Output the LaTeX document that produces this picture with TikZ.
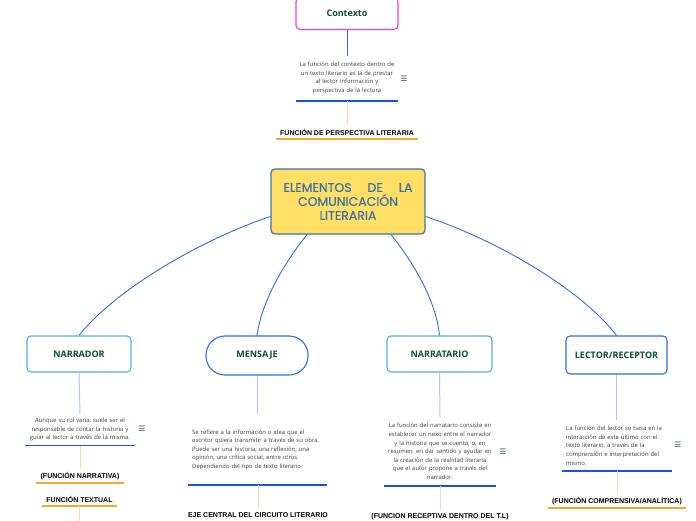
\documentclass[tikz,border=0pt]{standalone}
\usepackage{fontspec}
\setmainfont{Open Sans}
\newfontfamily\lblfont{Liberation Sans}
\newfontfamily\centfont[FakeBold=0.3]{Poppins}
\newfontfamily\symfont{DejaVu Sans}
\definecolor{magentaC}{HTML}{F53BDB}
\definecolor{dkgreen}{HTML}{0F4D3A}
\definecolor{centfill}{HTML}{FFDF66}
\definecolor{centborder}{HTML}{3B78A6}
\definecolor{centtext}{HTML}{3C6FA3}
\definecolor{curveblue}{HTML}{2E6AF2}
\definecolor{boxlight}{HTML}{5BAAE8}
\definecolor{boxblue}{HTML}{2F6BEF}
\definecolor{stemblue}{HTML}{A8C6FF}
\definecolor{ulblue}{HTML}{1F4FE0}
\definecolor{orangec}{HTML}{F7A52B}
\definecolor{lightorange}{HTML}{FFD8A8}
\definecolor{notegray}{HTML}{3F3F3F}
\definecolor{iconc}{HTML}{2E4A48}
\pgfdeclarelayer{background}
\pgfsetlayers{background,main}
\tikzset{
  topic/.style={draw, rounded corners=4pt, line width=1.1pt, fill=white, inner sep=0pt,
    font=\bfseries\fontsize{9}{10}\selectfont, text=dkgreen},
  note/.style={text=notegray, font=\fontsize{5.9}{8.6}\selectfont, inner xsep=0pt, inner ysep=0pt},
  tag/.style={font=\lblfont\bfseries\fontsize{7}{8}\selectfont, inner sep=0pt, minimum height=14pt, text=black},
  icon/.style={font=\symfont\fontsize{7.5}{8}\selectfont, text=iconc, inner sep=0pt},
  curve/.style={draw=curveblue, line width=0.9pt},
  stem/.style={draw=stemblue, line width=1pt},
  ostem/.style={draw=lightorange, line width=1pt},
  buline/.style={draw=ulblue, line width=1.6pt},
  oline/.style={draw=orangec, line width=1.5pt}
}
\begin{document}
\begin{tikzpicture}[x=1pt,y=-1pt]
\useasboundingbox (0,0) rectangle (696,520);

% ---------- nodes ----------
\node[topic, draw=magentaC, minimum width=102pt, minimum height=32pt, anchor=south] (ctx) at (347,30) {Contexto};
\node[note, align=center, text width=120pt, minimum height=46pt] (n0) at (347,78)
  {La función del contexto dentro de\\un texto literario es la de prestar\\al lector información y\\perspectiva de la lectura};
\coordinate (m0) at (347,101);
\coordinate (s0) at (347.5,56);
\node[icon] (i0) at (404,79) {☰};
\node[tag] (tc) at (347,132) {FUNCIÓN DE PERSPECTIVA LITERARIA};
\coordinate (u0) at (347,139);

\node[draw=centborder, fill=centfill, rounded corners=4pt, line width=1.2pt, minimum width=154pt,
  minimum height=65pt, text width=136pt, align=center, inner sep=0pt,
  font=\centfont\fontsize{12.5}{14}\selectfont, text=centtext] (root) at (348,201.5)
  {\makebox[129pt]{ELEMENTOS\hfill DE\hfill LA}\\COMUNICACIÓN\\LITERARIA};

\node[topic, draw=boxlight, minimum width=104pt, minimum height=36pt] (narr) at (79,354) {NARRADOR};
\node[topic, draw=boxblue, rounded corners=19pt, minimum width=102pt, minimum height=39pt] (mens) at (257,355.5) {MENSAJE};
\node[topic, draw=boxlight, minimum width=105pt, minimum height=36pt] (narrt) at (439.5,354) {NARRATARIO};
\node[topic, draw=boxblue, minimum width=101pt, minimum height=38pt] (lect) at (616.5,355) {LECTOR/RECEPTOR};

\node[note, align=center, text width=130pt, minimum height=31pt] (n1) at (80,429.5)
  {Aunque su rol varía, suele ser el\\responsable de contar la historia y\\guiar al lector a través de la misma.};
\coordinate (m1) at (80,445.5);
\node[icon] (i1) at (142,429) {☰};
\node[tag] (t1) at (80,476) {(FUNCIÓN NARRATIVA)};
\node[tag] (t2) at (79.5,499) {FUNCIÓN TEXTUAL};
\coordinate (e1) at (79.5,530);

\node[note, align=left, text width=140pt, minimum height=71pt, anchor=north west] (n2) at (192,414)
  {Se refiere a la información o idea que el\\escritor quiera transmitir a través de su obra.\\Puede ser una historia, una reflexión, una\\opinión, una crítica social, entre otros.\\Dependiendo del tipo de texto literario};
\coordinate (m2) at (257.5,485);
\node[tag] (t3) at (258,515) {EJE CENTRAL DEL CIRCUITO LITERARIO};

\node[note, align=center, text width=130pt, minimum height=69pt] (n3) at (440,451.5)
  {La función del narratario consiste en\\establecer un nexo entre el narrador\\y la historia que se cuenta, o, en\\resumen, en dar sentido y ayudar en\\la creación de la realidad literaria\\que el autor propone a través del\\narrador.};
\coordinate (m3) at (440,486);
\node[icon] (i3) at (503,452) {☰};
\node[tag] (t4) at (440,517) {(FUNCION RECEPTIVA DENTRO DEL T.L)};

\node[note, align=left, text width=105pt, minimum height=51pt, anchor=north west] (n4) at (566,420)
  {La función del lector se basa en la\\interacción de este último con el\\texto literario, a través de la\\comprensión e interpretación del\\mismo.};
\node[icon] (i4) at (678,445) {☰};
\coordinate (m4) at (617,471);
\node[tag] (t5) at (617,501) {(FUNCIÓN COMPRENSIVA/ANALÍTICA)};

% ---------- connectors ----------
\begin{pgfonlayer}{background}
\draw[curve, line width=1pt] (ctx.south -| s0) -- (s0);
\draw[buline] ([xshift=-51pt]m0) -- ([xshift=51pt]m0);
\draw[ostem] (m0) -- (tc.north);
\draw[oline] ([xshift=-71pt]u0) -- ([xshift=71pt]u0);

\draw[curve] ([yshift=-15pt]root.west) .. controls (200,240) and (115,290) .. (narr.north);
\draw[curve] ([xshift=-41pt]root.south) .. controls (285,262) and (262,300) .. (mens.north);
\draw[curve] ([xshift=43pt]root.south) .. controls (413,262) and (436,300) .. (narrt.north);
\draw[curve] ([yshift=-15pt]root.east) .. controls (497,240) and (582,290) .. (lect.north);

\draw[stem] (narr.south) -- (n1.north);
\draw[buline] ([xshift=-55pt]m1) -- ([xshift=55pt]m1);
\draw[ostem] (m1) -- (t1.north);
\draw[oline] ([xshift=-44pt]t1.south) -- ([xshift=44pt]t1.south);
\draw[oline] ([xshift=-37.5pt]t2.south) -- ([xshift=37.5pt]t2.south);
\draw[ostem] (t2.south) -- (e1);

\draw[stem] (mens.south) -- (mens.south |- n2.north);
\draw[buline] ([xshift=-69.5pt]m2) -- ([xshift=69.5pt]m2);
\draw[ostem] (t3.north |- m2) -- (t3.north);
\draw[oline] ([xshift=-70pt]t3.south) -- ([xshift=70pt]t3.south);

\draw[stem] (narrt.south) -- (n3.north);
\draw[buline] ([xshift=-56pt]m3) -- ([xshift=56pt]m3);
\draw[ostem] (m3) -- (t4.north);

\draw[stem] (lect.south) -- (lect.south |- n4.north);
\draw[buline] ([xshift=-55pt]m4) -- ([xshift=55pt]m4);
\draw[ostem] (m4) -- (t5.north);
\draw[oline] ([xshift=-69pt]t5.south) -- ([xshift=69pt]t5.south);
\end{pgfonlayer}
\end{tikzpicture}
\end{document}
